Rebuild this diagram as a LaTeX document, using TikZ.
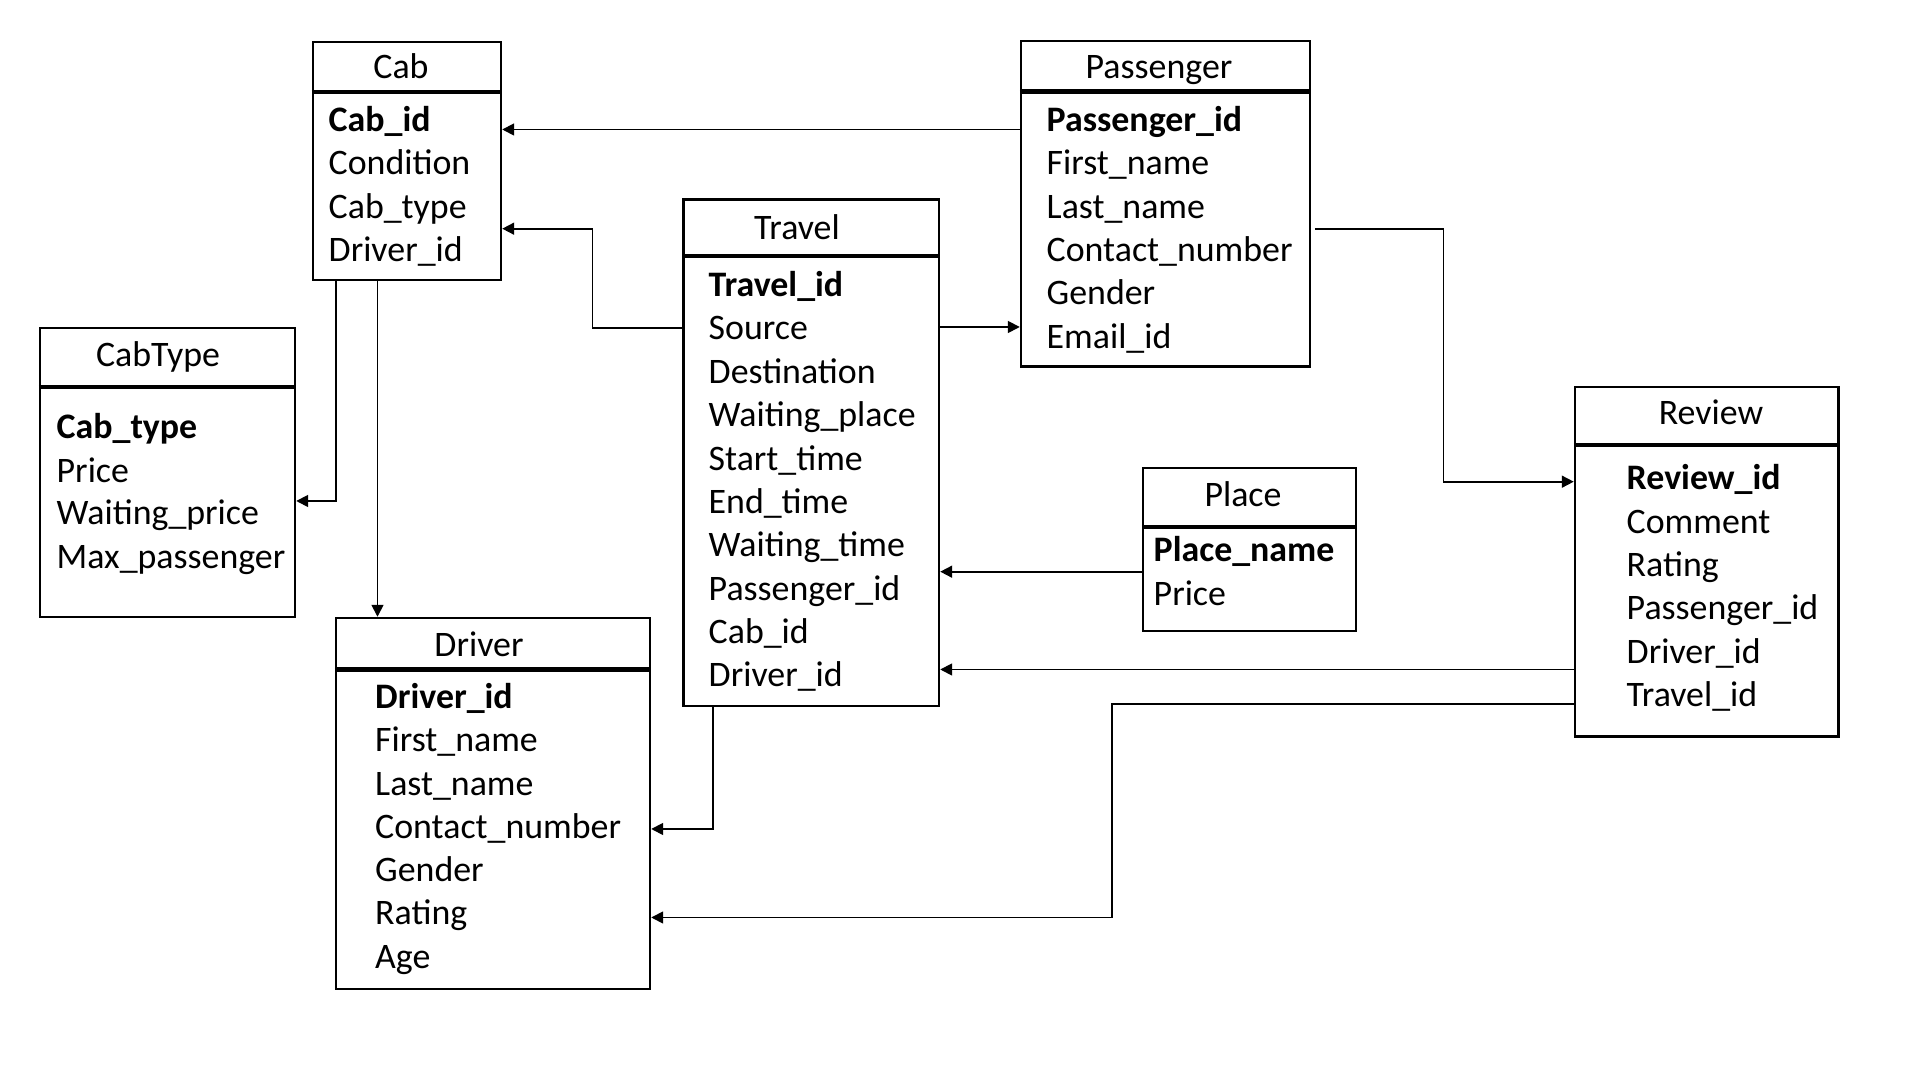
\documentclass[tikz,border=0pt]{standalone}
\usepackage{fontspec}
\setmainfont{Carlito}
\usetikzlibrary{arrows.meta,fit}
\begin{document}
\begin{tikzpicture}[x=0.01cm, y=-0.01cm,
  tbox/.style={draw, line width=0.7pt, inner sep=0pt},
  sepline/.style={line width=1.1pt},
  ttl/.style={anchor=base, inner sep=0pt, font=\fontsize{10.2}{12}\selectfont},
  fld/.style={anchor=base west, inner sep=0pt, font=\fontsize{10.2}{12}\selectfont},
  pk/.style={anchor=base west, inner sep=0pt, font=\fontsize{10.2}{12}\selectfont\bfseries},
  conn/.style={line width=0.5pt, -{Triangle[length=3.4pt,width=3.4pt]}}]
\useasboundingbox[fill=white] (0,0) rectangle (1920,1080);

% ---------- Cab ----------
\node[tbox, fit={(313,42) (501,91)}] (cabH) {};
\node[tbox, fit={(313,91) (501,280)}] (cab) {};
\draw[sepline] (cabH.south west) -- (cabH.south east);
\node[ttl] (cabT) at (401,78.5) {Cab};
\node[pk]  (cab1) at (328,131.5) {Cab\_id};
\node[fld] (cab2) at (328,174.8) {Condition};
\node[fld] (cab3) at (328,218.2) {Cab\_type};
\node[fld] (cab4) at (328,261.5) {Driver\_id};

% ---------- Passenger ----------
\node[tbox, fit={(1021,41) (1310,90.5)}] (passH) {};
\node[tbox, fit={(1021,90.5) (1310,366.5)}] (pass) {};
\draw[sepline] (passH.south west) -- (passH.south east);
\node[ttl] (passT) at (1159,79) {Passenger};
\node[pk]  (pass1) at (1046,131.5) {Passenger\_id};
\node[fld] (pass2) at (1046,174.8) {First\_name};
\node[fld] (pass3) at (1046,218.2) {Last\_name};
\node[fld] (pass4) at (1046,261.5) {Contact\_number};
\node[fld] (pass5) at (1046,304.8) {Gender};
\node[fld] (pass6) at (1046,348.2) {Email\_id};

% ---------- Travel ----------
\node[tbox, fit={(683.5,199.5) (939,255)}] (travH) {};
\node[tbox, fit={(683.5,255) (939,706)}] (trav) {};
\draw[sepline] (travH.south west) -- (travH.south east);
\node[ttl] (travT) at (797,240) {Travel};
\node[pk]  (trav1) at (708,296.5) {Travel\_id};
\node[fld] (trav2) at (708,340) {Source};
\node[fld] (trav3) at (708,383.5) {Destination};
\node[fld] (trav4) at (708,427) {Waiting\_place};
\node[fld] (trav5) at (708,470.5) {Start\_time};
\node[fld] (trav6) at (708,513.5) {End\_time};
\node[fld] (trav7) at (708,557) {Waiting\_time};
\node[fld] (trav8) at (708,600.5) {Passenger\_id};
\node[fld] (trav9) at (708,643.5) {Cab\_id};
\node[fld] (trav10) at (708,687) {Driver\_id};

% ---------- CabType ----------
\node[tbox, fit={(40,328) (295,386)}] (ctypeH) {};
\node[tbox, fit={(40,386) (295,617)}] (ctype) {};
\draw[sepline] (ctypeH.south west) -- (ctypeH.south east);
\node[ttl] (ctypeT) at (158,367) {CabType};
\node[pk]  (ctype1) at (56,438.5) {Cab\_type};
\node[fld] (ctype2) at (56,482.5) {Price};
\node[fld] (ctype3) at (56,525) {Waiting\_price};
\node[fld] (ctype4) at (56,568.5) {Max\_passenger};

% ---------- Driver ----------
\node[tbox, fit={(336,618) (650,668.5)}] (drvH) {};
\node[tbox, fit={(336,668.5) (650,989)}] (drv) {};
\draw[sepline] (drvH.south west) -- (drvH.south east);
\node[ttl] (drvT) at (479,657) {Driver};
\node[pk]  (drv1) at (374.5,708.5) {Driver\_id};
\node[fld] (drv2) at (374.5,751.8) {First\_name};
\node[fld] (drv3) at (374.5,795.1) {Last\_name};
\node[fld] (drv4) at (374.5,838.5) {Contact\_number};
\node[fld] (drv5) at (374.5,881.7) {Gender};
\node[fld] (drv6) at (374.5,925) {Rating};
\node[fld] (drv7) at (374.5,968.3) {Age};

% ---------- Review ----------
\node[tbox, fit={(1575,387) (1838.5,444)}] (revH) {};
\node[tbox, fit={(1575,444) (1838.5,736.5)}] (rev) {};
\draw[sepline] (revH.south west) -- (revH.south east);
\node[ttl] (revT) at (1711,425) {Review};
\node[pk]  (rev1) at (1626,490) {Review\_id};
\node[fld] (rev2) at (1626,533.5) {Comment};
\node[fld] (rev3) at (1626,576.5) {Rating};
\node[fld] (rev4) at (1626,620) {Passenger\_id};
\node[fld] (rev5) at (1626,663.5) {Driver\_id};
\node[fld] (rev6) at (1626,706.5) {Travel\_id};

% ---------- Place ----------
\node[tbox, fit={(1143,468) (1356,526)}] (plH) {};
\node[tbox, fit={(1143,526) (1356,631)}] (pl) {};
\draw[sepline] (plH.south west) -- (plH.south east);
\node[ttl] (plT) at (1243,507) {Place};
\node[pk]  (pl1) at (1153,562) {Place\_name};
\node[fld] (pl2) at (1153,605.5) {Price};

% ---------- Connectors ----------
\coordinate (bTC) at (592.5,228.7);
\coordinate (bPR) at (1443.5,481.7);
\coordinate (bRD) at (1112,917.5);

\draw[conn] (pass.west |- 0,129.5) -- (cab.east |- 0,129.5);
\draw[conn] (trav.west |- 0,328) -| (bTC) -- (cab.east |- bTC);
\draw[conn] (cab.south -| 336,0) |- (ctype.east |- 0,501);
\draw[conn] (cab.south -| 377.5,0) -- (drvH.north -| 377.5,0);
\draw[conn] (trav.east |- 0,327) -- (pass.west |- 0,327);
\draw[conn] ([xshift=1pt]pass.east |- 0,229) -| (bPR) -- (rev.west |- bPR);
\draw[conn] (pl.west |- 0,571.7) -- (trav.east |- 0,571.7);
\draw[conn] (rev.west |- 0,669.5) -- (trav.east |- 0,669.5);
\draw[conn] (trav.south -| 713,0) |- (drv.east |- 0,829);
\draw[conn] (rev.west |- 0,704) -| (bRD) -- (drv.east |- bRD);
\end{tikzpicture}
\end{document}
